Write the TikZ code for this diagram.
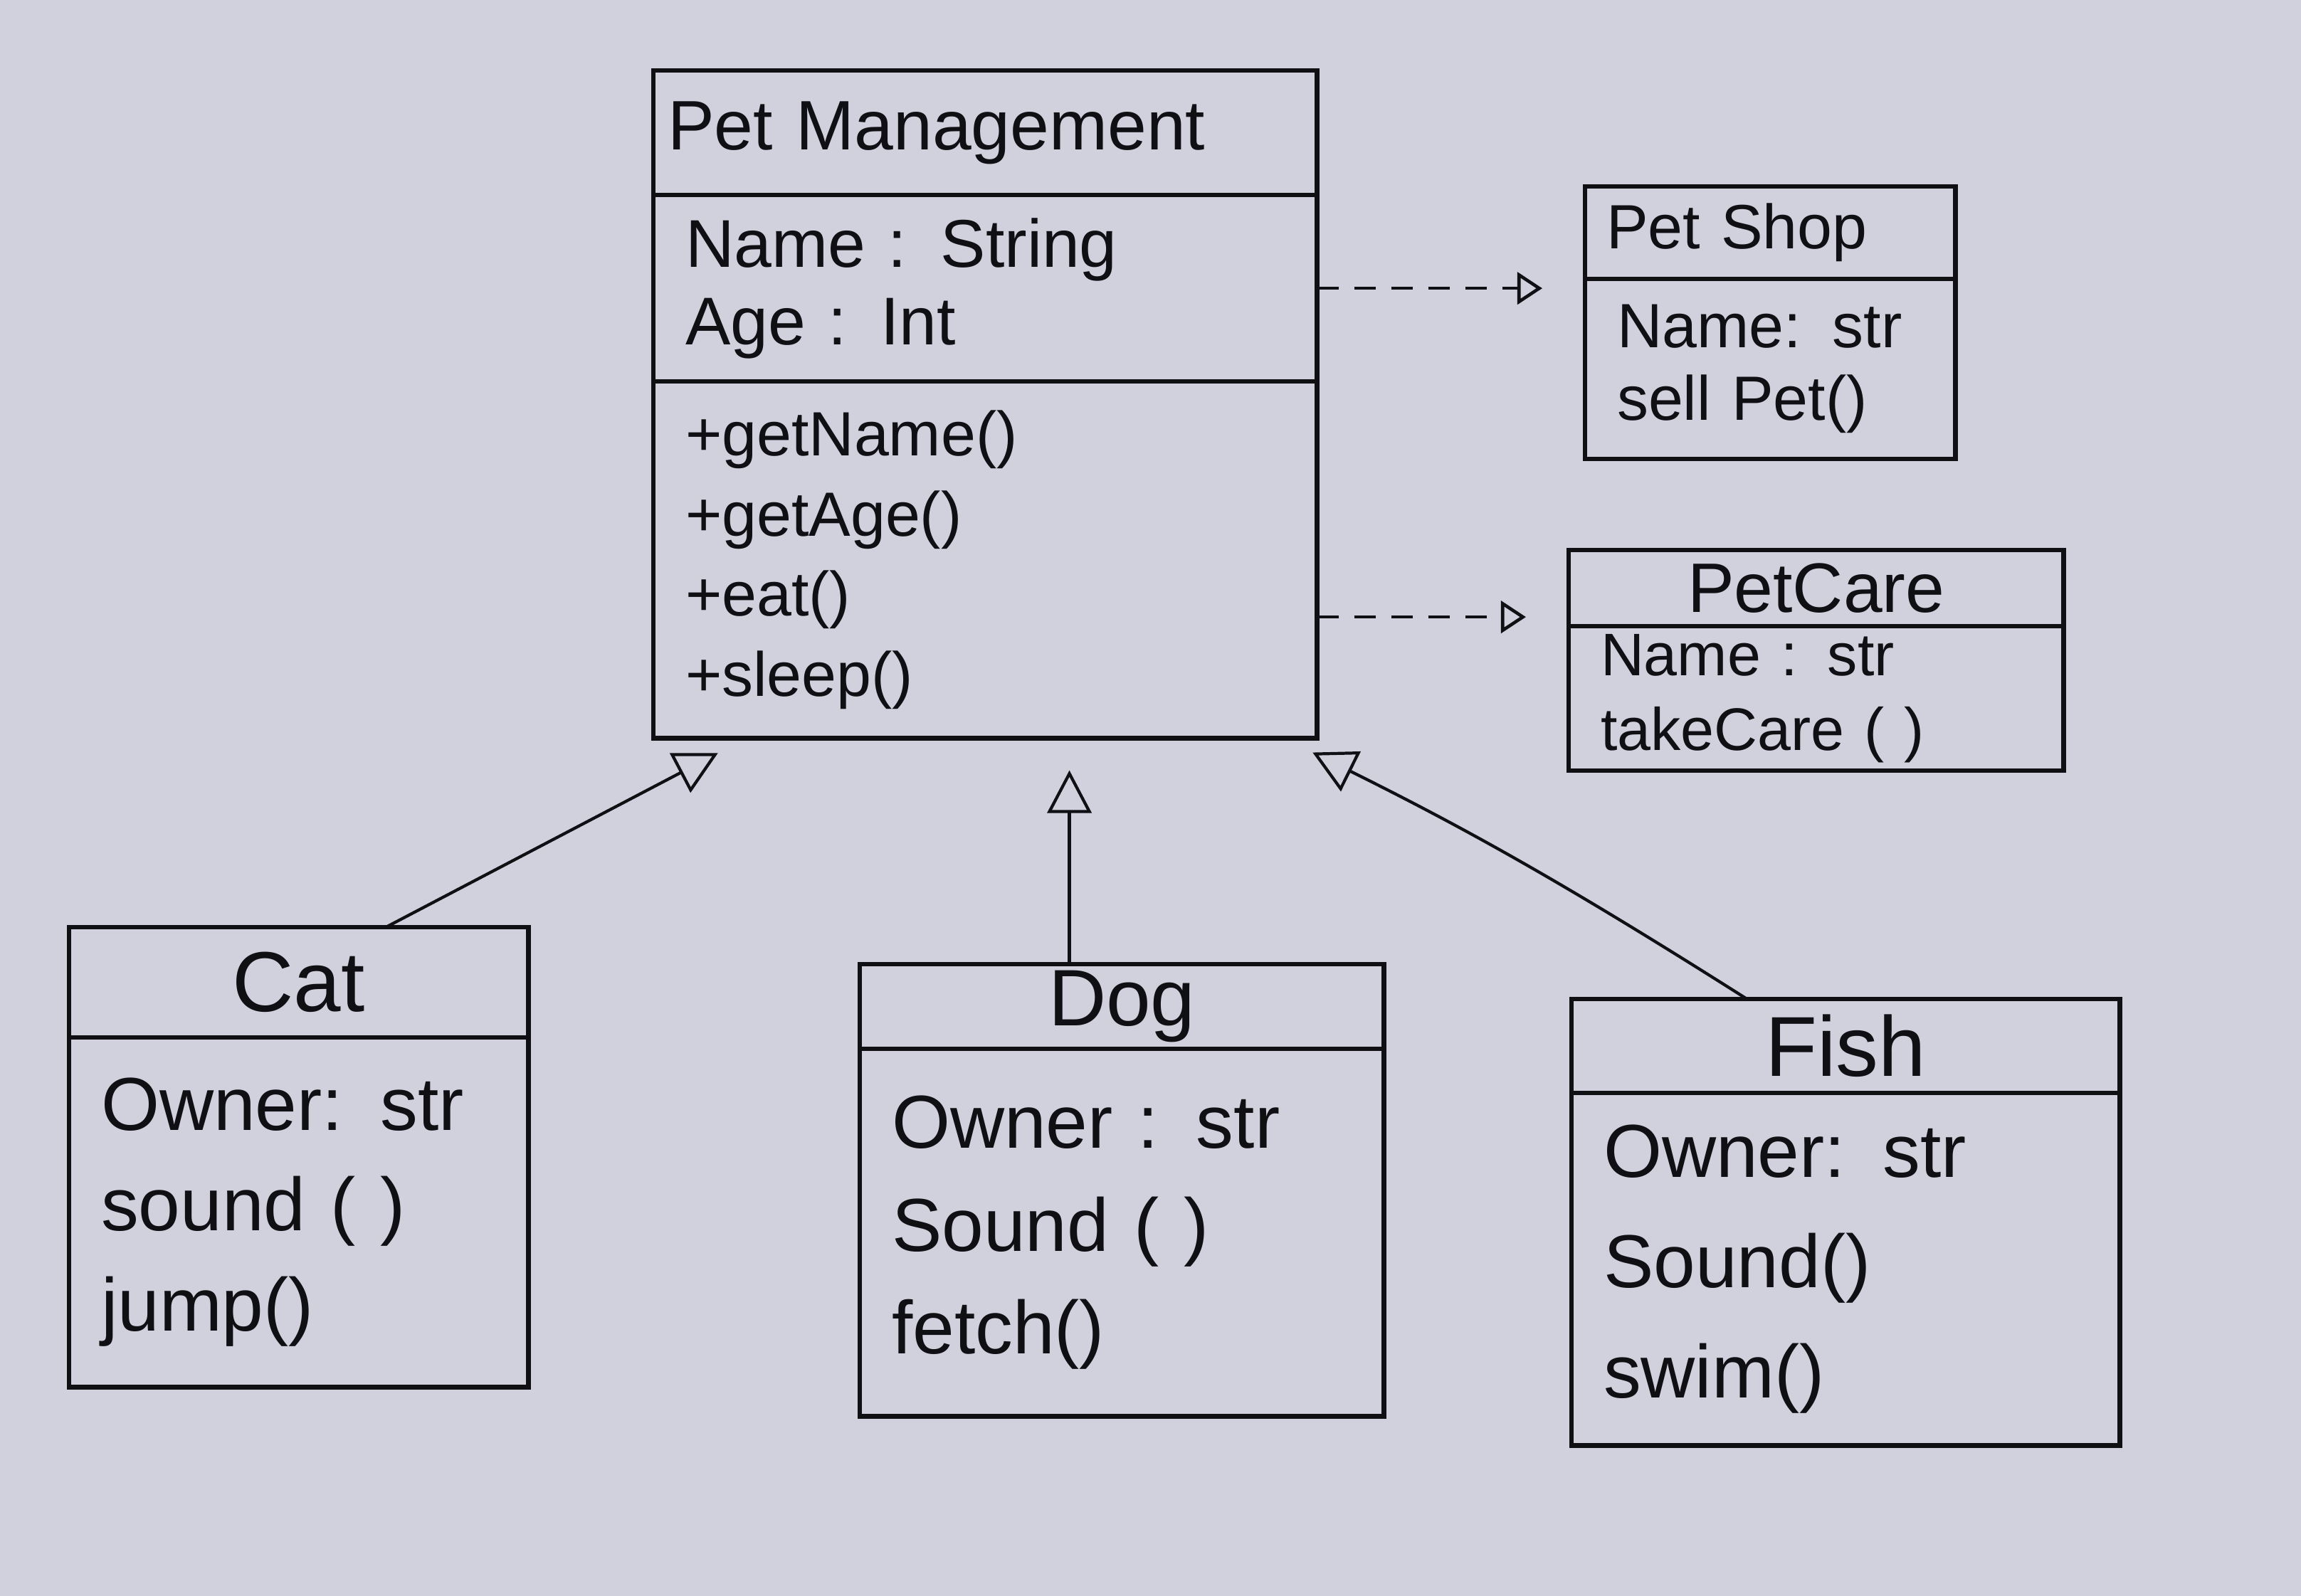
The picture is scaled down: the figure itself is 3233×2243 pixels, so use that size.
\documentclass[tikz,border=0pt]{standalone}
\usepackage{fontspec}
\setmainfont{Liberation Sans}
\usetikzlibrary{arrows.meta,calc,positioning}
\definecolor{PaperClr}{rgb}{0.82,0.82,0.87}
\definecolor{InkClr}{rgb}{0.06,0.06,0.08}
\newcommand{\umlsize}[2]{\fontsize{#1}{#2}\selectfont}
\tikzset{
  classtitle/.style={draw=InkClr,line width=1.8pt,outer sep=0pt,inner xsep=0.3cm,inner ysep=0pt,anchor=north west,align=center},
  classbody/.style={draw=InkClr,line width=1.8pt,outer sep=0pt,inner xsep=0.45cm,inner ysep=0pt,align=left},
  genarrow/.style={draw=InkClr,line width=1.2pt,-{Triangle[open,length=0.6cm,width=0.62cm]},shorten >=0.45cm},
  deparrow/.style={draw=InkClr,line width=1.3pt,dash pattern=on 0.3cm off 0.22cm,-{Triangle[open,length=0.35cm,width=0.45cm]},shorten >=0.6cm}
}

\begin{document}
\begin{tikzpicture}[x=0.01cm,y=-0.01cm,text=InkClr]
\fill[PaperClr] (0,0) rectangle (3233,2243);

% base class
\node[classtitle,align=left,inner xsep=0.2cm,text width=8.92cm,minimum height=1.75cm,font=\umlsize{28}{32}] (pmtitle) at (918,99) {Pet Management};
\node[classbody,below=0pt of pmtitle,text width=8.42cm,minimum height=2.62cm,font=\umlsize{27}{31}] (pmattr) {Name : String\\Age : Int};
\node[classbody,below=0pt of pmattr,text width=8.42cm,minimum height=5.01cm,font=\umlsize{25}{32}] (pmmeth) {+getName()\\+getAge()\\+eat()\\+sleep()};

\node[classtitle,align=left,text width=4.6cm,minimum height=1.3cm,font=\umlsize{25}{29}] (shoptitle) at (2227,262) {Pet Shop};
\node[classbody,below=0pt of shoptitle,text width=4.3cm,minimum height=2.53cm,font=\umlsize{25}{29}] (shopbody) {Name: str\\sell Pet()};

\node[classtitle,text width=6.35cm,minimum height=1.07cm,font=\umlsize{28}{32}] (caretitle) at (2204,773) {PetCare};
\node[classbody,below=0pt of caretitle,text width=6.05cm,minimum height=2.03cm,font=\umlsize{24}{30}] (carebody) {Name : str\\takeCare ( )};

% subclasses
\node[classtitle,text width=5.85cm,minimum height=1.55cm,font=\umlsize{34}{38}] (cattitle) at (97,1303) {Cat};
\node[classbody,below=0pt of cattitle,text width=5.55cm,minimum height=4.91cm,font=\umlsize{30}{40}] (catbody) {Owner: str\\sound ( )\\jump()};

\node[classtitle,text width=6.76cm,minimum height=1.19cm,font=\umlsize{32}{36}] (dogtitle) at (1208,1355) {Dog};
\node[classbody,below=0pt of dogtitle,text width=6.46cm,minimum height=5.16cm,font=\umlsize{30}{41}] (dogbody) {Owner : str\\Sound ( )\\fetch()};

\node[classtitle,text width=7.1cm,minimum height=1.32cm,font=\umlsize{34}{38}] (fishtitle) at (2208,1404) {Fish};
\node[classbody,below=0pt of fishtitle,text width=6.8cm,minimum height=4.95cm,font=\umlsize{30}{44}] (fishbody) {Owner: str\\Sound()\\swim()};

% inheritance
\coordinate (cattop) at ($(cattitle.north west)!.69!(cattitle.north east)$);
\coordinate (pmleft) at ($(pmmeth.south west)!.14!(pmmeth.south east)$);
\draw[genarrow] (cattop) -- (pmleft);

\coordinate (dogtop) at ($(dogtitle.north west)!.4!(dogtitle.north east)$);
\draw[genarrow] (dogtop) -- (dogtop |- pmmeth.south);

\coordinate (fishtop) at ($(fishtitle.north west)!.32!(fishtitle.north east)$);
\coordinate (pmright) at ($(pmmeth.south west)!.95!(pmmeth.south east)$);
\draw[genarrow] (fishtop) to[bend right=3] (pmright);

% dependencies
\draw[deparrow] (pmattr.east) -- (pmattr.east -| shopbody.west);
\coordinate (caredep) at ($(pmmeth.north east)!.66!(pmmeth.south east)$);
\draw[deparrow] (caredep) -- (caredep -| caretitle.west);

\end{tikzpicture}
\end{document}
